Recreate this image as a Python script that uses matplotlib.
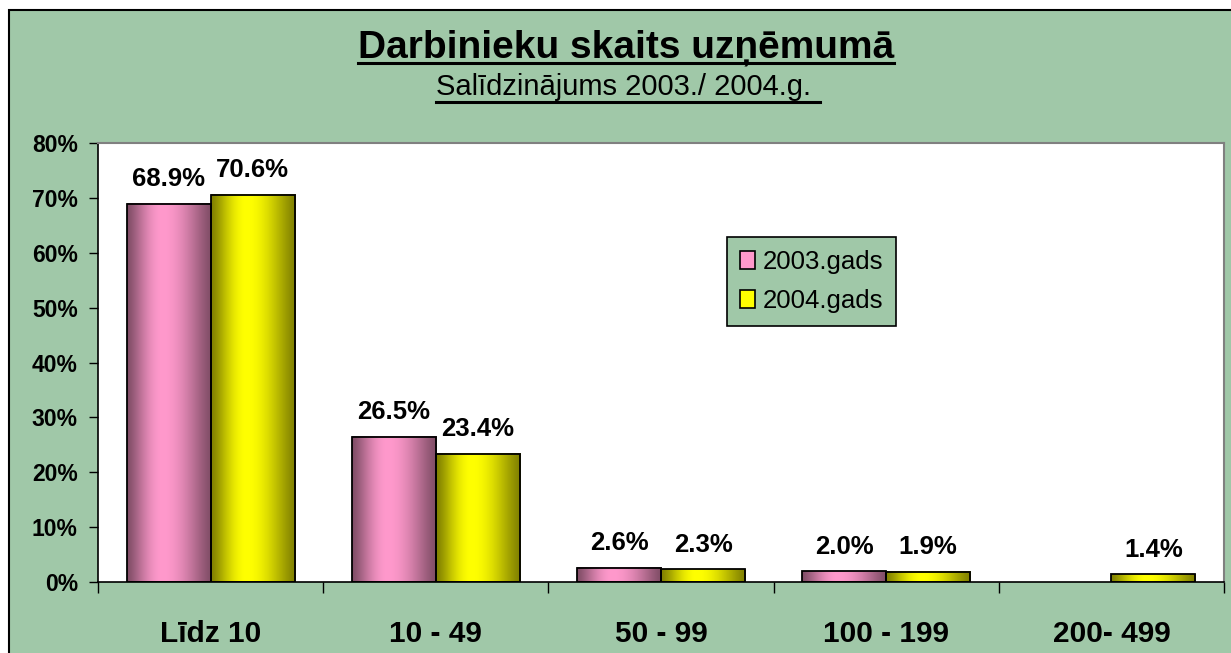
import numpy as np
import matplotlib.pyplot as plt
from matplotlib.patches import Rectangle, Patch
from matplotlib.lines import Line2D
from matplotlib.colors import to_rgb

plt.rcParams['font.family'] = ['Liberation Sans', 'DejaVu Sans']

# dati
kategorijas = ['Līdz 10', '10 - 49', '50 - 99', '100 - 199', '200- 499']
gads_2003 = [68.9, 26.5, 2.6, 2.0, np.nan]
gads_2004 = [70.6, 23.4, 2.3, 1.9, 1.4]
serijas = ['2003.gads', '2004.gads']
y_ticks = [0, 10, 20, 30, 40, 50, 60, 70, 80]

zala = '#A0C8A8'
krasas = [('#FF99CC', '#804D66'), ('#FFFF00', '#808000')]

W, H = 1231, 653
fig = plt.figure(figsize=(W / 100, H / 100), dpi=100)
fig.patch.set_facecolor('white')
fig.add_artist(Rectangle((9 / W, -0.05), 1.05, 1 - 10 / H + 0.05, transform=fig.transFigure,
                         facecolor=zala, edgecolor='black', lw=1.5, zorder=0))

ax = fig.add_axes([98 / W, 71 / H, 1126 / W, 439 / H])
ax.set_facecolor('white')

x = np.arange(len(kategorijas))
bw = 84 / 225


def gradient_bar(ax, xc, h, light, dark):
    # cilindra efekts: tumšas malas, gaišs vidus nedaudz pa kreisi
    t = np.linspace(0, 1, 300)
    u = np.where(t < 0.42, t / 0.42, (1 - t) / 0.58)
    f = np.sin(u * np.pi / 2) ** 1.3
    light = np.array(to_rgb(light))
    dark = np.array(to_rgb(dark))
    c = dark + (light - dark) * f[:, None]
    ax.imshow(c[None, :, :], extent=[xc - bw / 2, xc + bw / 2, 0, h], aspect='auto',
              interpolation='bilinear', zorder=2)
    ax.bar(xc, h, width=bw, facecolor='none', edgecolor='black', lw=1.3, zorder=3)


for i, vals in enumerate([gads_2003, gads_2004]):
    light, dark = krasas[i]
    for j, v in enumerate(vals):
        if np.isnan(v):
            continue
        xc = x[j] + (i - 0.5) * bw
        gradient_bar(ax, xc, v, light, dark)
        ax.annotate(f'{v:.1f}%', (xc, v), xytext=(0, 9), textcoords='offset points',
                    ha='center', va='bottom', fontsize=18.5, fontweight='bold', zorder=4)

ax.set_xlim(-0.5, len(kategorijas) - 0.5)
ax.set_ylim(0, 80)

ax.set_yticks(y_ticks)
ax.set_yticklabels([f'{v}%' for v in y_ticks], fontsize=16.5, fontweight='bold')
ax.tick_params(axis='y', length=6.5, width=1, pad=8)

ax.set_xticks(np.arange(len(kategorijas) + 1) - 0.5)
ax.set_xticklabels([])
ax.tick_params(axis='x', which='major', length=8, width=1)
ax.set_xticks(x, minor=True)
ax.set_xticklabels(kategorijas, minor=True, fontsize=21.5, fontweight='bold')
ax.tick_params(axis='x', which='minor', length=0, pad=27)

for s in ['top', 'right']:
    ax.spines[s].set_color('#808080')
    ax.spines[s].set_linewidth(1.5)
for s in ['left', 'bottom']:
    ax.spines[s].set_color('black')
    ax.spines[s].set_linewidth(1.2)

handles = [Patch(facecolor=krasas[i][0], edgecolor='black', lw=1.2) for i in range(2)]
leg = fig.legend(handles, serijas, loc='upper left', bbox_to_anchor=(727 / W, 1 - 237 / H),
                 bbox_transform=fig.transFigure, frameon=True, fancybox=False, framealpha=1,
                 facecolor=zala, edgecolor='black', fontsize=18.5, handlelength=0.6,
                 handleheight=0.7, handletextpad=0.3, borderpad=0.5, labelspacing=0.6,
                 borderaxespad=0)
leg.get_frame().set_linewidth(1.2)

# virsraksti ar pasvītrojumu
title = fig.text(626 / W, 1 - 57 / H, 'Darbinieku skaits uzņēmumā', ha='center', va='baseline',
                 fontsize=28, fontweight='bold')
subtitle = fig.text(628 / W, 1 - 95 / H, 'Salīdzinājums 2003./ 2004.g. ', ha='center',
                    va='baseline', fontsize=21)

renderer = fig.canvas.get_renderer()
for txt, y_line in [(title, 63), (subtitle, 102)]:
    bb = txt.get_window_extent(renderer)
    fig.add_artist(Line2D([bb.x0 / W, bb.x1 / W], [1 - y_line / H, 1 - y_line / H],
                          transform=fig.transFigure, color='black', lw=2.2))

fig.savefig('out.png', dpi=100, facecolor=fig.get_facecolor())
